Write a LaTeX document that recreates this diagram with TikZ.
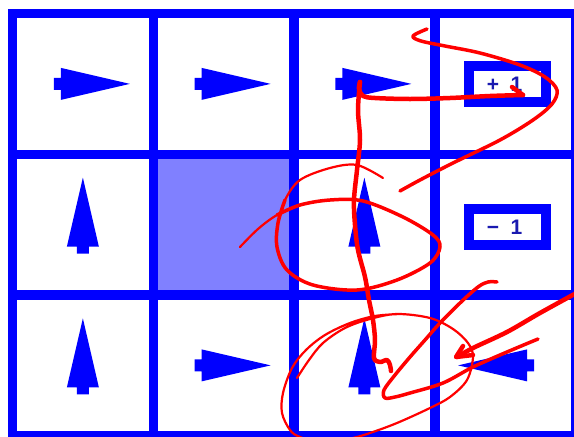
\documentclass[tikz,border=0pt]{standalone}
\usepackage{fontspec}
\setsansfont{Liberation Sans}
\definecolor{gridblue}{HTML}{0000FF}
\definecolor{wallfill}{HTML}{8080FF}
\definecolor{rewtext}{HTML}{1A1AB0}
\definecolor{penred}{HTML}{FF0000}
\tikzset{
  cell/.style={rectangle, draw=gridblue, line width=9.5pt, minimum width=140.75pt, minimum height=140.75pt, inner sep=0pt, outer sep=0pt},
  wallcell/.style={cell, fill=wallfill},
  rewbox/.style={rectangle, draw=gridblue, line width=10pt, minimum width=77pt, minimum height=36pt, inner sep=0pt, fill=white},
  rewlbl/.style={font=\sffamily\bfseries\fontsize{21}{21}\selectfont, text=rewtext, inner sep=0pt},
  pen/.style={draw=penred, line width=3.5pt, line cap=round, line join=round},
  penbold/.style={pen, line width=4.5pt},
  penthin/.style={pen, line width=2.2pt},
  pointer/.pic={
    \fill[gridblue] (-29,-6) -- (-22,-6) -- (-22,-16) -- (47,0) -- (-22,16) -- (-22,6) -- (-29,6) -- cycle;
  },
}
\begin{document}
\begin{tikzpicture}[x=1pt,y=-1pt]
  \useasboundingbox (0,0) rectangle (574,437);
  \clip (0,0) rectangle (574,437);
  \fill[white] (0,0) rectangle (574,437);
  \node[cell] (c11) at (82.875,83.875) {};
  \node[cell] (c12) at (223.625,83.875) {};
  \node[cell] (c13) at (364.375,83.875) {};
  \node[cell] (c14) at (505.125,83.875) {};
  \node[cell] (c21) at (82.875,224.625) {};
  \node[wallcell] (c22) at (223.625,224.625) {};
  \node[cell] (c23) at (364.375,224.625) {};
  \node[cell] (c24) at (505.125,224.625) {};
  \node[cell] (c31) at (82.875,365.375) {};
  \node[cell] (c32) at (223.625,365.375) {};
  \node[cell] (c33) at (364.375,365.375) {};
  \node[cell] (c34) at (505.125,365.375) {};
  \pic at (c11) {pointer};
  \pic at (c12) {pointer};
  \pic at (c13) {pointer};
  \pic[rotate=90] at (c21) {pointer};
  \pic[rotate=90] at (c23) {pointer};
  \pic[rotate=90] at (c31) {pointer};
  \pic at (c32) {pointer};
  \pic[rotate=90] at (c33) {pointer};
  \pic[rotate=180] at (c34) {pointer};
  \node[rewbox] (goal) at (507.500,84.000) {};
  \node[rewlbl] (goaltxt) at (504.500,84.500) {+\hspace{0.55em}1};
  \node[rewbox] (pit) at (507.500,226.500) {};
  \node[rewlbl] (pittxt) at (504.500,227.000) {−\hspace{0.55em}1};
  \draw[pen] plot[smooth, tension=0.55] coordinates {(427,29) (413,36) (421,41) (445,46) (480,53) (520,65) (545,77) (557,90) (552,104) (533,120) (500,140) (453,163) (420,180) (400,191)};
  \draw[penbold] plot[smooth, tension=0.55] coordinates {(523,95) (490,96) (450,98) (410,99) (375,98) (363,96) (359,89) (360,82)};
  \draw[penbold] (512,87) -- (523,95);
  \draw[penbold] plot[smooth, tension=0.55] coordinates {(360,82) (358,110) (360,140) (357,170) (354,200) (355,225) (358,250) (365,277) (369,300) (373,320) (375,340) (374,358) (380,362) (387,360) (390,365) (391,371)};
  \draw[penthin] plot[smooth, tension=0.55] coordinates {(240,247) (258,229) (277,215) (300,205)};
  \draw[pen] plot[smooth, tension=0.55] coordinates {(277,215) (300,205) (330,200) (363,201) (403,217) (433,235) (440,247) (430,263) (397,280) (357,290) (313,285) (287,270) (277,247) (278,223) (285,200)};
  \draw[penthin] plot[smooth, tension=0.55] coordinates {(278,223) (285,200) (300,180) (330,168) (357,165) (383,178)};
  \draw[penthin] plot[smooth, tension=0.55] coordinates {(297,378) (309,360) (323,343) (345,328) (370,319) (397,314) (430,318) (453,329) (468,343) (473,357) (467,380) (450,397) (430,408) (397,423) (370,433) (353,438) (325,444) (300,437) (290,430) (282,413) (283,393) (292,368) (306,350) (325,335) (350,323) (375,316) (400,314)};
  \draw[pen] plot[smooth, tension=0.55] coordinates {(497,282) (488,282) (478,287) (460,303) (440,323) (425,340) (410,357) (395,375) (384,390) (385,398) (395,397) (410,393) (443,383) (473,367) (507,352) (538,339)};
  \draw[penbold] plot[smooth, tension=0.55] coordinates {(580,291) (540,313) (507,332) (473,348) (457,357)};
  \draw[penbold] (463,346) -- (456,357) -- (473,355);
\end{tikzpicture}
\end{document}
